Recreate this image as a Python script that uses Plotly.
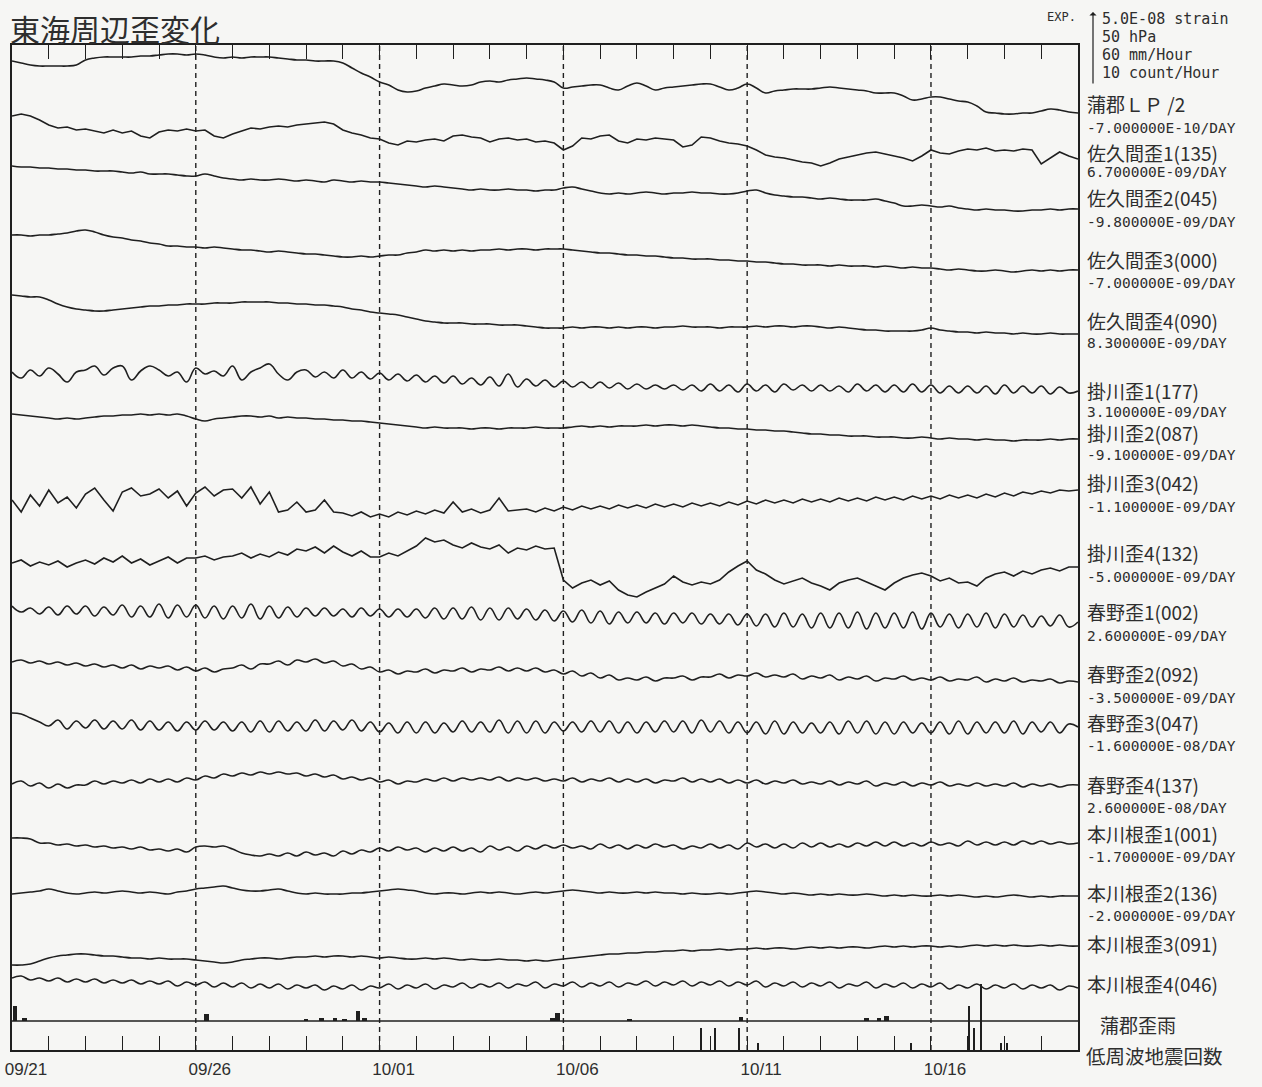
import pandas as pd
import plotly.graph_objects as go

# ---------------- data ----------------
# 6-hourly samples, 09/21 00:00 .. 10/20 00:00
times = pd.date_range("2003-09-21 00:00", "2003-10-20 00:00", freq="6h")

# strain deviations (upward positive), chart units: 73 units = 5.0E-08 strain
gamagori_lp = [
 0,-2,-4,-5, -5,-5,-5,-4, 1,3,4,4, 4,4,5,5, 6,7,7,6,
 7,6,4,3, 4,3,4,4, 4,3,2,1, 1,0,0,0, -2,-7,-12,-16,
 -21,-24,-29,-31, -30,-27,-25,-23, -24,-25,-24,-21, -20,-21,-19,-18, -17,-18,-19,-21,
 -27,-26,-25,-24, -24,-27,-29,-25, -22,-25,-29,-27, -26,-25,-24,-23, -23,-26,-29,-27,
 -23,-27,-32,-30, -29,-28,-28,-28, -27,-26,-27,-28, -29,-30,-32,-32, -32,-35,-39,-38,
 -36,-36,-38,-40, -41,-45,-51,-52, -53,-53,-52,-52, -50,-48,-49,-51,
 -52]
sakuma1 = [
 0,2,0,-4, -9,-12,-11,-14, -13,-15,-17,-14, -17,-15,-20,-22, -16,-14,-15,-13,
 -15,-14,-20,-22, -18,-15,-12,-13, -11,-10,-11,-9, -8,-7,-6,-8, -14,-17,-19,-22,
 -23,-27,-29,-25, -26,-24,-23,-25, -20,-19,-21,-22, -26,-23,-22,-24, -23,-26,-25,-27,
 -34,-30,-22,-23, -20,-19,-25,-27, -23,-24,-22,-23, -24,-31,-29,-21, -22,-25,-27,-28,
 -30,-34,-39,-41, -42,-44,-46,-47, -50,-47,-43,-41, -39,-37,-36,-38, -40,-42,-45,-40,
 -34,-37,-38,-35, -33,-34,-32,-35, -34,-35,-33,-34, -48,-42,-36,-40,
 -43]
sakuma2 = [
 0,-1,-1,-2, -2,-3,-3,-4, -4,-5,-5,-5, -6,-7,-6,-8, -8,-8,-9,-10,
 -10,-8,-10,-12, -13,-14,-13,-14, -14,-13,-14,-15, -14,-15,-16,-14, -15,-16,-15,-16,
 -16,-17,-18,-19, -20,-21,-20,-21, -22,-23,-24,-23, -24,-24,-23,-24, -24,-25,-24,-24,
 -22,-21,-23,-25, -27,-28,-27,-28, -27,-26,-27,-28, -27,-27,-26,-27, -27,-28,-28,-27,
 -25,-24,-27,-29, -30,-31,-31,-32, -33,-32,-33,-34, -34,-34,-33,-35, -37,-40,-40,-39,
 -40,-41,-40,-42, -43,-44,-43,-44, -44,-45,-45,-44, -44,-43,-44,-43,
 -43]
sakuma3 = [
 0,0,-1,0, 0,1,2,4, 5,3,0,-2, -3,-5,-6,-8, -9,-11,-11,-12,
 -12,-13,-12,-13, -14,-15,-15,-16, -17,-16,-17,-18, -19,-19,-20,-21, -22,-22,-21,-22,
 -21,-20,-20,-18, -17,-15,-16,-15, -16,-15,-16,-15, -15,-14,-15,-14, -14,-15,-14,-14,
 -14,-15,-16,-17, -18,-18,-19,-20, -20,-21,-21,-22, -23,-23,-24,-24, -24,-25,-25,-26,
 -26,-27,-27,-28, -29,-29,-30,-30, -30,-31,-30,-31, -31,-31,-32,-31, -32,-33,-32,-33,
 -33,-34,-35,-34, -35,-36,-36,-35, -36,-37,-36,-35, -36,-35,-36,-35,
 -35]
sakuma4 = [
 0,-1,-2,-2, -5,-9,-12,-14, -15,-16,-16,-15, -14,-13,-12,-11, -11,-10,-10,-9,
 -9,-9,-8,-8, -8,-7,-7,-7, -7,-8,-8,-9, -9,-10,-10,-11, -12,-14,-15,-17,
 -18,-19,-20,-22, -24,-26,-27,-28, -28,-28,-29,-29, -29,-30,-30,-30, -31,-32,-33,-33,
 -33,-32,-33,-32, -32,-33,-32,-33, -32,-32,-33,-32, -32,-31,-32,-32, -32,-33,-32,-32,
 -32,-31,-32,-31, -31,-32,-31,-31, -32,-33,-32,-33, -34,-35,-35,-36, -36,-36,-36,-35,
 -33,-35,-36,-37, -37,-38,-37,-38, -38,-39,-38,-39, -39,-38,-39,-39,
 -39]
kakegawa1 = [
 0,-6,2,-4, 4,-2,-10,0, 2,6,-3,4, 6,-8,1,6, 2,-4,0,-10,
 4,-2,1,-4, 6,-8,0,4, 8,-2,-8,0, 2,-5,0,-6, 2,-6,0,-7,
 -1,-8,-2,-9, -3,-10,-4,-11, -4,-12,-6,-13, -5,-14,-2,-15, -7,-14,-8,-15,
 -9,-15,-10,-16, -10,-16,-11,-17, -12,-17,-13,-17, -13,-18,-13,-19, -12,-19,-13,-20,
 -12,-19,-13,-20, -12,-18,-13,-19, -13,-19,-14,-20, -12,-19,-13,-20, -13,-20,-12,-20,
 -13,-21,-14,-21, -14,-21,-14,-22, -13,-21,-14,-21, -14,-22,-15,-21,
 -19]
kakegawa2 = [
 0,-1,-2,-3, -4,-5,-4,-5, -4,-3,-2,-2, -1,-1,0,-1, 0,-1,0,-2,
 -5,-7,-5,-4, -3,-2,-2,-3, -2,-4,-3,-4, -4,-5,-5,-6, -6,-7,-7,-8,
 -9,-10,-11,-12, -13,-14,-13,-14, -14,-14,-15,-14, -14,-15,-14,-14, -14,-13,-14,-14,
 -14,-13,-12,-13, -12,-13,-12,-12, -12,-11,-12,-11, -11,-12,-11,-12, -13,-14,-14,-15,
 -15,-16,-16,-17, -17,-18,-19,-20, -20,-21,-21,-22, -22,-22,-23,-23, -23,-24,-24,-23,
 -24,-25,-24,-25, -25,-26,-25,-26, -26,-27,-26,-26, -26,-25,-26,-25,
 -25]
kakegawa3 = [
 0,-12,5,-6, 10,-3,3,-8, 6,12,0,-11, 8,12,4,6, 11,2,9,-6,
 7,13,4,10, 11,2,13,-4, 8,-12,-10,-2, -12,-10,0,-12, -13,-16,-12,-17,
 -14,-17,-12,-15, -11,-14,-10,-13, -2,-12,-9,-13, -10,2,-11,-10, -9,-12,-8,-11,
 -7,-10,-6,-9, -6,-9,-5,-8, -5,-8,-4,-7, -4,-7,-3,-6, -3,-6,-2,-5,
 -1,-4,0,-3, 0,-3,1,-2, 1,-2,2,-1, 2,-1,3,0, 3,0,4,1,
 4,1,5,2, 5,2,6,3, 7,4,8,6, 9,7,10,9,
 10]
kakegawa4 = [
 0,3,-3,1, -2,2,-4,0, 3,-1,5,1, 7,0,4,-2, 2,6,0,5,
 5,7,3,6, 7,10,5,9, 6,11,8,14, 12,16,10,17, 11,7,12,6,
 6,10,7,12, 17,25,21,23, 18,15,20,16, 14,18,10,15, 13,17,14,15,
 -17,-25,-20,-17, -22,-18,-27,-32, -34,-29,-25,-21, -13,-19,-22,-19, -21,-17,-9,-3,
 2,-7,-11,-17, -21,-18,-15,-20, -23,-27,-20,-17, -15,-19,-23,-27, -20,-15,-12,-10,
 -13,-18,-15,-20, -19,-23,-15,-11, -9,-13,-8,-11, -7,-5,-8,-4,
 -4]
haruno1 = [
 0,-6,-2,-8, -1,-9,0,-8, 0,-10,-1,-9, 1,-11,0,-11, 2,-12,1,-11,
 1,-12,0,-13, 0,-12,2,-13, 0,-12,-1,-11, -2,-10,-2,-10, -3,-11,-2,-10,
 -3,-11,-3,-11, -3,-12,-2,-13, -2,-13,-1,-14, -2,-14,-2,-13, -3,-14,-4,-15,
 -5,-16,-4,-17, -5,-18,-6,-17, -6,-17,-7,-18, -7,-17,-7,-18, -8,-18,-8,-19,
 -8,-20,-8,-21, -7,-21,-8,-22, -7,-22,-7,-22, -6,-23,-7,-22, -7,-22,-6,-23,
 -7,-21,-8,-22, -8,-21,-7,-22, -8,-21,-9,-21, -10,-20,-9,-21,
 -16]
haruno2 = [
 0,2,-1,1, -2,0,-3,-1, -4,-2,-5,-3, -6,-3,-7,-4, -6,-4,-8,-5,
 -9,-6,-10,-7, -6,-3,-7,-2, -2,1,-3,2, 0,3,-1,1, -4,-2,-7,-5,
 -10,-8,-12,-9, -10,-7,-11,-8, -9,-6,-10,-7, -8,-5,-9,-6, -9,-6,-10,-8,
 -12,-9,-14,-11, -16,-13,-18,-16, -18,-15,-19,-16, -16,-14,-18,-15, -15,-12,-16,-13,
 -14,-11,-15,-13, -15,-12,-17,-14, -16,-13,-18,-15, -17,-14,-19,-16, -17,-14,-18,-16,
 -18,-15,-19,-17, -18,-15,-20,-17, -19,-16,-20,-18, -19,-17,-21,-19,
 -20]
haruno3 = [
 0,-1,-5,-9, -13,-7,-16,-8, -15,-7,-16,-8, -16,-7,-17,-8, -17,-9,-18,-9,
 -17,-8,-17,-9, -18,-9,-19,-8, -19,-8,-18,-9, -18,-7,-18,-8, -17,-7,-18,-9,
 -19,-10,-20,-9, -20,-9,-20,-10, -19,-8,-19,-9, -19,-7,-20,-8, -20,-8,-20,-9,
 -18,-9,-19,-8, -19,-8,-20,-9, -20,-9,-19,-8, -19,-8,-20,-7, -19,-8,-20,-9,
 -20,-9,-21,-8, -21,-9,-20,-10, -20,-9,-21,-8, -20,-8,-21,-9, -21,-9,-20,-10,
 -20,-9,-21,-8, -21,-9,-20,-9, -20,-8,-21,-9, -19,-9,-20,-11,
 -14]
haruno4 = [
 0,3,-2,1, -4,0,-4,-1, -1,3,0,3, 1,4,1,5, 2,5,2,6,
 4,8,6,10, 8,11,9,12, 10,12,10,11, 8,10,7,9, 5,7,4,6,
 2,4,0,3, 2,5,3,6, 3,6,4,6, 4,7,3,6, 4,6,3,5,
 3,6,2,5, 3,6,2,5, 2,5,1,4, 3,6,2,5, 2,5,1,4,
 1,4,0,3, 1,4,0,2, 0,3,-1,2, 0,3,-2,1, -1,2,-2,1,
 -1,2,-2,0, -2,1,-2,0, -2,1,-3,0, -2,0,-3,-1,
 -1]
honkawane1 = [
 0,0,-1,-5, -5,-7,-6,-8, -7,-9,-8,-10, -9,-11,-9,-12, -11,-13,-11,-14,
 -9,-8,-9,-8, -11,-15,-17,-18, -16,-18,-15,-18, -14,-17,-15,-18, -13,-16,-12,-14,
 -10,-13,-9,-12, -10,-14,-10,-13, -9,-13,-10,-14, -8,-12,-9,-13, -8,-11,-7,-10,
 -7,-10,-8,-11, -6,-10,-7,-11, -7,-10,-6,-9, -7,-11,-8,-10, -6,-10,-7,-11,
 -5,-9,-6,-10, -6,-10,-5,-9, -5,-9,-6,-9, -5,-8,-4,-8, -4,-8,-5,-8,
 -4,-7,-5,-8, -3,-7,-4,-7, -4,-7,-3,-6, -3,-6,-4,-6,
 -5]
honkawane2 = [
 0,1,2,3, 5,3,1,0, 1,2,1,2, 3,2,1,2, 1,0,2,3,
 5,6,7,8, 6,4,3,3, 4,5,3,1, 0,1,0,0, 0,1,1,2,
 3,4,5,4, 3,1,0,1, 1,0,1,2, 1,2,1,0, 1,2,1,2,
 3,4,3,2, 1,2,1,1, 2,1,2,1, 1,0,1,0, 0,1,0,1,
 2,3,2,1, 0,1,0,-1, 0,-1,0,-1, -1,0,-1,-2, -1,-2,-1,-2,
 -2,-1,-2,-1, -2,-3,-2,-3, -2,-1,-2,-3, -2,-3,-2,-2,
 -2]
honkawane3 = [
 0,0,1,4, 7,9,10,11, 11,10,9,9, 8,7,7,6, 7,6,6,6,
 5,4,3,2, 3,5,6,7, 7,6,7,8, 8,9,8,9, 9,8,9,8,
 7,8,7,6, 6,7,6,7, 6,5,6,5, 5,6,5,5, 4,5,4,5,
 6,7,8,9, 10,11,11,12, 12,13,13,14, 14,15,14,15, 15,16,15,16,
 16,17,16,17, 17,16,17,18, 17,18,17,18, 18,17,18,19, 18,19,18,19,
 19,18,19,18, 19,20,19,20, 19,20,19,19, 20,19,20,19,
 19]
honkawane4 = [
 0,2,-2,0, -3,0,-4,-1, -4,-1,-5,-2, -5,-2,-6,-3, -6,-3,-8,-4,
 -7,-4,-9,-5, -9,-5,-10,-6, -10,-6,-11,-7, -10,-7,-12,-8, -11,-7,-12,-8,
 -10,-6,-11,-7, -10,-6,-11,-7, -9,-5,-10,-6, -9,-5,-10,-6, -8,-4,-10,-6,
 -8,-4,-9,-5, -8,-4,-9,-5, -7,-3,-8,-4, -7,-3,-8,-4, -7,-3,-8,-4,
 -7,-3,-9,-5, -8,-4,-9,-5, -8,-4,-10,-6, -8,-4,-10,-6, -9,-5,-10,-6,
 -9,-5,-11,-7, -10,-6,-11,-7, -10,-6,-11,-7, -10,-7,-12,-8,
 -10]

station_names = [
    "蒲郡ＬＰ /2", "佐久間歪1(135)", "佐久間歪2(045)", "佐久間歪3(000)", "佐久間歪4(090)",
    "掛川歪1(177)", "掛川歪2(087)", "掛川歪3(042)", "掛川歪4(132)",
    "春野歪1(002)", "春野歪2(092)", "春野歪3(047)", "春野歪4(137)",
    "本川根歪1(001)", "本川根歪2(136)", "本川根歪3(091)", "本川根歪4(046)",
]
trend_rates = [
    "-7.000000E-10/DAY", "6.700000E-09/DAY", "-9.800000E-09/DAY", "-7.000000E-09/DAY",
    "8.300000E-09/DAY", "3.100000E-09/DAY", "-9.100000E-09/DAY", "-1.100000E-09/DAY",
    "-5.000000E-09/DAY", "2.600000E-09/DAY", "-3.500000E-09/DAY", "-1.600000E-08/DAY",
    "2.600000E-08/DAY", "-1.700000E-09/DAY", "-2.000000E-09/DAY", None, None,
]
series = [gamagori_lp, sakuma1, sakuma2, sakuma3, sakuma4,
          kakegawa1, kakegawa2, kakegawa3, kakegawa4,
          haruno1, haruno2, haruno3, haruno4,
          honkawane1, honkawane2, honkawane3, honkawane4]

# 蒲郡 rain (mm/hour)
rain_times = ["2003-09-21 02:00", "2003-09-21 08:00", "2003-09-26 07:00", "2003-09-29 00:00",
              "2003-09-29 10:00", "2003-09-29 19:00", "2003-09-30 01:00", "2003-09-30 10:00",
              "2003-09-30 14:00", "2003-10-05 17:00", "2003-10-05 20:00", "2003-10-07 19:00",
              "2003-10-10 20:00", "2003-10-14 06:00", "2003-10-14 14:00", "2003-10-14 19:00"]
rain_mm = [12, 2.5, 6, 1.5, 2.5, 2.5, 1.5, 8, 2.5, 2.5, 6.5, 1.5, 3, 2.5, 2.5, 4]

# low-frequency earthquakes (count/hour)
lfe_times = ["2003-10-09 18:00", "2003-10-10 03:00", "2003-10-10 19:00", "2003-10-11 07:00",
             "2003-10-15 11:00", "2003-10-17 01:00", "2003-10-17 04:00", "2003-10-17 09:00",
             "2003-10-17 22:00", "2003-10-18 02:00"]
lfe_counts = [3, 3, 3, 1, 1, 6, 3, 9, 1, 1]

date_labels = ["09/21", "09/26", "10/01", "10/06", "10/11", "10/16"]

# ---------------- layout geometry (pixels) ----------------
W, H = 1262, 1087
PL, PR, PT, PB = 12, 1078, 45, 1050
PH = PB - PT
trace_base_px = [61, 116, 166, 235, 295, 372, 414, 500, 563, 606, 662, 713, 784, 838, 894, 965, 978]
name_px = [104, 152, 197, 259, 320, 390, 432, 482, 552, 612, 673, 722, 784, 833, 892, 943, 983]
rate_px = [128, 172, 222, 283, 343, 412, 455, 507, 577, 636, 698, 746, 808, 857, 916, None, None]
spline = [True, False, True, True, True, True, True, False, False,
          True, True, True, True, True, True, True, True]
RAIN_BASE_PX = 1021
STRAIN_PX_PER_UNIT = 1.0
COUNT_PX = 73 / 10.0     # 10 count/Hour = 73 px
RAIN_PX = 73 / 60.0      # 60 mm/Hour = 73 px

INK = "#1f1f1f"
TXT = "#2e2e2e"
BG = "#f6f6f4"


def xp(px):
    return (px - PL) / (PR - PL)


def yp(py):
    return (PB - py) / PH


fig = go.Figure()

for s, base, sp in zip(series, trace_base_px, spline):
    off = PB - base
    fig.add_trace(go.Scatter(
        x=times[:len(s)], y=[off + v for v in s], mode="lines",
        line=dict(color=INK, width=1.6, shape="spline" if sp else "linear", smoothing=1.2),
        hoverinfo="skip", showlegend=False))

fig.add_trace(go.Bar(x=pd.to_datetime(rain_times), y=rain_mm, base=0, yaxis="y3",
                     width=3 * 3600 * 1000, marker=dict(color=INK, line=dict(width=0)),
                     hoverinfo="skip", showlegend=False))
fig.add_trace(go.Bar(x=pd.to_datetime(lfe_times), y=lfe_counts, base=0, yaxis="y2",
                     width=1.1 * 3600 * 1000, marker=dict(color=INK, line=dict(width=0)),
                     hoverinfo="skip", showlegend=False))

days = pd.date_range("2003-09-21", "2003-10-19", freq="D")
tick_text = [d.strftime("%m/%d") if d.strftime("%m/%d") in date_labels else "" for d in days]

shapes = []
for d in ["2003-09-26", "2003-10-01", "2003-10-06", "2003-10-11", "2003-10-16"]:
    shapes.append(dict(type="line", xref="x", yref="paper", x0=d, x1=d, y0=0, y1=1,
                       line=dict(color=INK, width=1.4, dash="5px,4px")))
shapes.append(dict(type="line", xref="paper", yref="y3", x0=0, x1=1, y0=0, y1=0,
                   line=dict(color=INK, width=1.6)))

ann = []
ann.append(dict(text="東海周辺歪変化", x=xp(8), y=yp(28), xref="paper", yref="paper",
                xanchor="left", yanchor="middle", showarrow=False,
                font=dict(family="Noto Sans CJK JP", size=30, color=TXT)))
for name, npx, rate, rpx in zip(station_names, name_px, trend_rates, rate_px):
    ann.append(dict(text=name, x=xp(1085), y=yp(npx), xref="paper", yref="paper",
                    xanchor="left", yanchor="middle", showarrow=False,
                    font=dict(family="Noto Sans CJK JP", size=19, color=TXT)))
    if rate:
        ann.append(dict(text=rate, x=xp(1085), y=yp(rpx), xref="paper", yref="paper",
                        xanchor="left", yanchor="middle", showarrow=False,
                        font=dict(family="DejaVu Sans Mono", size=14.5, color=TXT)))
ann.append(dict(text="蒲郡歪雨", x=xp(1138), y=yp(1024), xref="paper", yref="paper",
                xanchor="center", yanchor="middle", showarrow=False,
                font=dict(family="Noto Sans CJK JP", size=19, color=TXT)))
ann.append(dict(text="低周波地震回数", x=xp(1084), y=yp(1055), xref="paper", yref="paper",
                xanchor="left", yanchor="middle", showarrow=False,
                font=dict(family="Noto Sans CJK JP", size=19.5, color=TXT)))
# EXP scale block
ann.append(dict(text="EXP.", x=xp(1078), y=yp(17), xref="paper", yref="paper",
                xanchor="right", yanchor="middle", showarrow=False,
                font=dict(family="DejaVu Sans Mono", size=12, color=TXT)))
for txt, py in zip(["5.0E-08 strain", "50 hPa", "60 mm/Hour", "10 count/Hour"], [19, 37, 55, 73]):
    ann.append(dict(text=txt, x=xp(1100), y=yp(py), xref="paper", yref="paper",
                    xanchor="left", yanchor="middle", showarrow=False,
                    font=dict(family="DejaVu Sans Mono", size=15, color=TXT)))
ann.append(dict(text="", x=xp(1093), y=yp(12), xref="paper", yref="paper",
                showarrow=True, ax=0, ay=73, arrowhead=1, arrowsize=1, arrowwidth=1.2,
                arrowcolor=INK))

fig.update_layout(
    width=W, height=H, margin=dict(l=PL, r=W - PR, t=PT, b=H - PB, autoexpand=False),
    paper_bgcolor=BG, plot_bgcolor=BG, bargap=0, barmode="overlay",
    hovermode=False, showlegend=False,
    xaxis=dict(type="date", range=["2003-09-21", "2003-10-20"], tickvals=days, ticktext=tick_text,
               ticks="inside", ticklen=14, tickwidth=1.4, tickcolor=INK, automargin=False,
               showline=True, linecolor=INK, linewidth=1.7, mirror="ticks",
               showgrid=False, zeroline=False, ticklabelshift=14, ticklabelstandoff=3,
               tickfont=dict(family="Liberation Sans", size=17, color=TXT)),
    yaxis=dict(range=[0, PH / STRAIN_PX_PER_UNIT], showline=True, linecolor=INK, linewidth=1.7,
               mirror=True, showticklabels=False, ticks="", showgrid=False, zeroline=False,
               automargin=False),
    yaxis2=dict(overlaying="y", range=[0, PH / COUNT_PX], visible=False),
    yaxis3=dict(overlaying="y", range=[-(PB - RAIN_BASE_PX) / RAIN_PX, (RAIN_BASE_PX - PT) / RAIN_PX],
                visible=False),
    shapes=shapes, annotations=ann,
)

fig.write_html("out.html")
